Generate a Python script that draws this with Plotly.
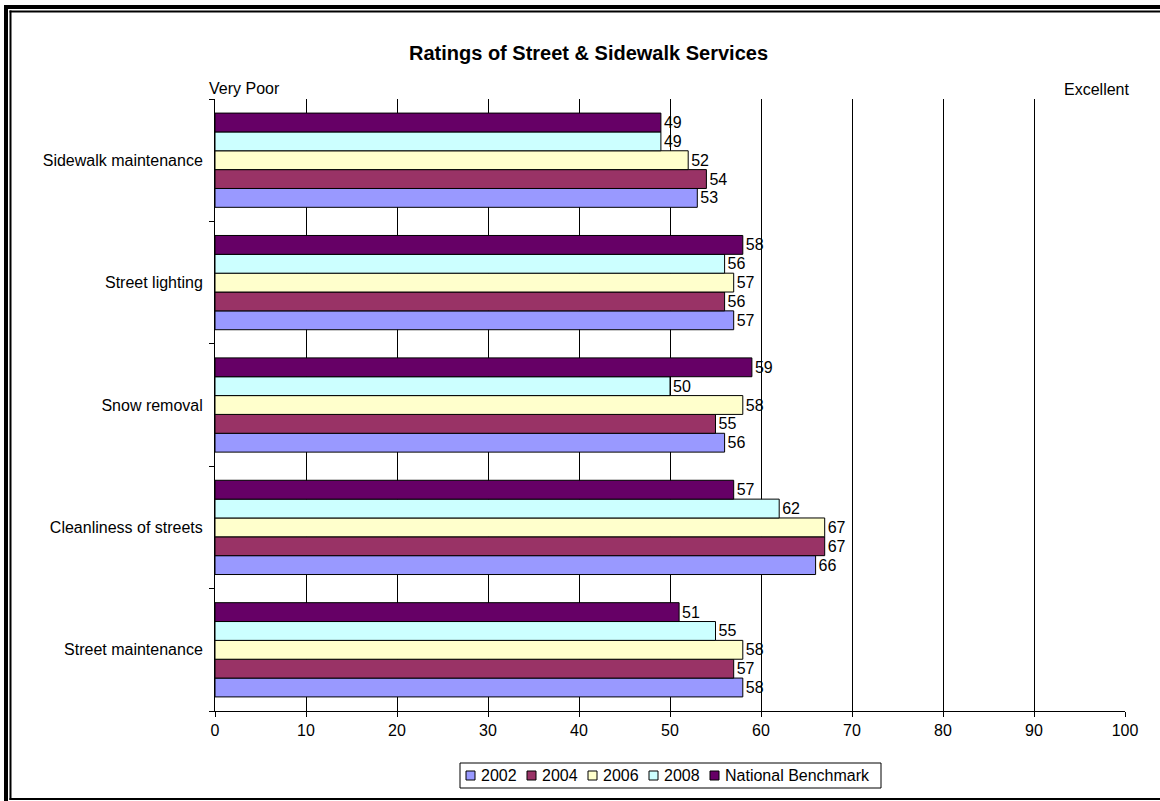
import plotly.graph_objects as go

# Survey ratings (0 = very poor, 100 = excellent)
categories = [
    "Street maintenance",
    "Cleanliness of streets",
    "Snow removal",
    "Street lighting",
    "Sidewalk maintenance",
]
series_names = ["2002", "2004", "2006", "2008", "National Benchmark"]
ratings_2002 = [58, 66, 56, 57, 53]
ratings_2004 = [57, 67, 55, 56, 54]
ratings_2006 = [58, 67, 58, 57, 52]
ratings_2008 = [55, 62, 50, 56, 49]
ratings_benchmark = [51, 57, 59, 58, 49]
x_ticks = [0, 10, 20, 30, 40, 50, 60, 70, 80, 90, 100]

series_values = [ratings_2002, ratings_2004, ratings_2006, ratings_2008, ratings_benchmark]
series_colors = ["#9999FF", "#993366", "#FFFFCC", "#CCFFFF", "#660066"]

FONT = "Liberation Sans, Arial, sans-serif"
W, H = 1160, 801
L, R, T, B = 215, 35, 99, 90
PW, PH = W - L - R, H - T - B


def fx(px):
    return (px - L) / PW


def fy(py):
    return (H - B - py) / PH


fig = go.Figure()
for name, vals, col in zip(series_names, series_values, series_colors):
    fig.add_trace(go.Bar(
        y=categories, x=vals, name=name, orientation="h",
        marker=dict(color=col, line=dict(color="black", width=1)),
        text=vals, texttemplate="%{x}", textposition="outside",
        textfont=dict(size=16, color="black", family=FONT),
        constraintext="none", cliponaxis=False, showlegend=False,
    ))

shapes = []
# double frame around the chart
frame_rects = [
    (4, 5, 8, H + 2),       # outer left
    (4, 5, W + 2, 9),       # outer top
    (9.5, 10.5, 11.5, 800),  # inner left
    (9.5, 10.5, W + 2, 12.5),  # inner top
    (9.5, 798, W + 2, 800),  # bottom
]
for x0, y0, x1, y1 in frame_rects:
    shapes.append(dict(type="rect", xref="paper", yref="paper",
                       x0=fx(x0), x1=fx(x1), y0=fy(y0), y1=fy(y1),
                       fillcolor="black", line=dict(width=0), layer="above"))

annotations = [
    dict(text="<b>Ratings of Street & Sidewalk Services</b>", xref="paper", yref="paper",
         x=fx(588.5), y=fy(53), xanchor="center", yanchor="middle", showarrow=False,
         font=dict(size=20, color="black", family=FONT)),
    dict(text="Very Poor", xref="paper", yref="paper", x=fx(207), y=fy(88),
         xanchor="left", yanchor="middle", showarrow=False,
         font=dict(size=16, color="black", family=FONT)),
    dict(text="Excellent", xref="paper", yref="paper", x=fx(1131), y=fy(89),
         xanchor="right", yanchor="middle", showarrow=False,
         font=dict(size=16, color="black", family=FONT)),
]

# legend box with swatches
leg_left, leg_right, leg_top, leg_bot = 460, 881, 763, 788
shapes.append(dict(type="rect", xref="paper", yref="paper",
                   x0=fx(leg_left), x1=fx(leg_right), y0=fy(leg_bot), y1=fy(leg_top),
                   fillcolor="white", line=dict(color="black", width=1), layer="above"))
leg_cy = (leg_top + leg_bot) / 2
for i, (name, col) in enumerate(zip(series_names, series_colors)):
    mx = 466 + 61 * i
    shapes.append(dict(type="rect", xref="paper", yref="paper",
                       x0=fx(mx), x1=fx(mx + 9), y0=fy(leg_cy + 4.5), y1=fy(leg_cy - 4.5),
                       fillcolor=col, line=dict(color="black", width=1), layer="above"))
    annotations.append(dict(text=name, xref="paper", yref="paper", x=fx(mx + 13), y=fy(leg_cy),
                            xanchor="left", yanchor="middle", showarrow=False,
                            font=dict(size=16, color="black", family=FONT)))

fig.update_layout(
    width=W, height=H, autosize=False,
    margin=dict(l=L, r=R, t=T, b=B),
    paper_bgcolor="white", plot_bgcolor="white",
    barmode="group", bargap=0.23, bargroupgap=0,
    font=dict(family=FONT, size=16, color="black"),
    shapes=shapes, annotations=annotations,
    xaxis=dict(range=[0, 100], tickvals=x_ticks, showgrid=True, gridcolor="black", gridwidth=1,
               showline=True, linecolor="black", linewidth=1, ticks="outside", ticklen=5,
               tickcolor="black", zeroline=False, tickfont=dict(size=16), fixedrange=True),
    yaxis=dict(showline=True, linecolor="black", linewidth=1, ticks="outside", ticklen=5,
               tickcolor="black", tickson="boundaries", showgrid=False, ticklabelstandoff=8,
               tickfont=dict(size=16), fixedrange=True),
)

fig.write_html("out.html")
